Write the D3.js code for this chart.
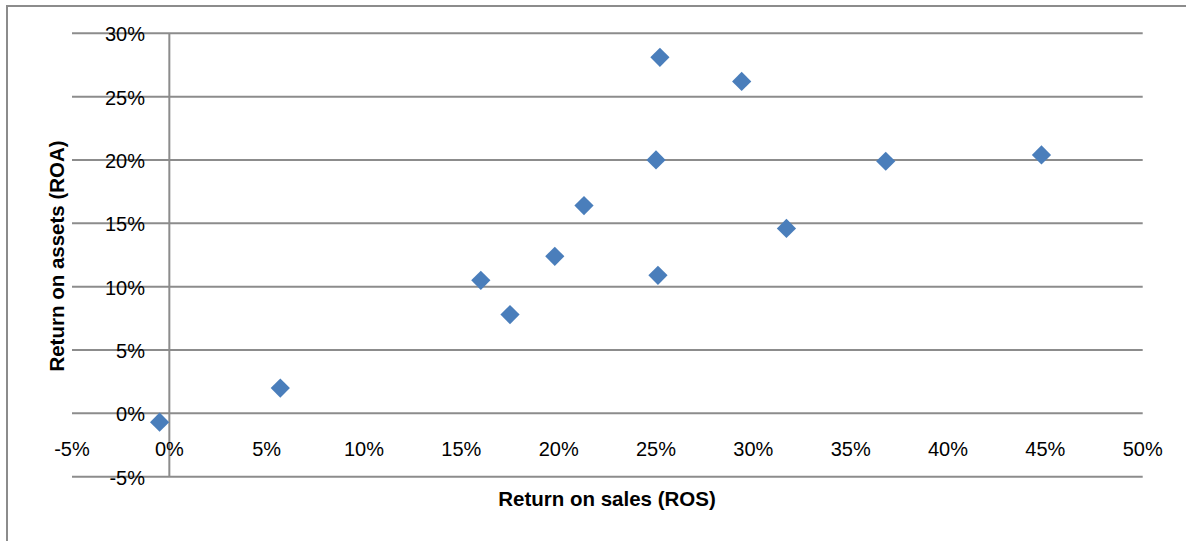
<!DOCTYPE html>
<html>
<head>
  <title>ROS vs ROA</title>
  <script src="https://d3js.org/d3.v7.min.js"></script>
  <style>
    body { margin: 0; background: #fff; }
    text { font-family: "Liberation Sans", Arial, sans-serif; fill: #000; }
  </style>
</head>
<body>
  <div id="chart"></div>

  <script>
    // return on sales (x) and return on assets (y), in percent
    const ros = [-0.5, 5.7, 16.0, 17.5, 19.8, 21.3, 25.2, 25.0, 25.1, 29.4, 31.7, 36.8, 44.8];
    const roa = [-0.7, 2.0, 10.5, 7.8, 12.4, 16.4, 28.1, 20.0, 10.9, 26.2, 14.6, 19.9, 20.4];
    const xTicks = [-5, 0, 5, 10, 15, 20, 25, 30, 35, 40, 45, 50];
    const yTicks = [-5, 0, 5, 10, 15, 20, 25, 30];

    const data = ros.map((d, i) => ({ x: d, y: roa[i] }));

    const width = 1186;
    const height = 541;
    const margin = { top: 33.3, right: 43.3, bottom: 64.3, left: 72 };

    const svg = d3.select("#chart")
      .append("svg")
      .attr("width", width)
      .attr("height", height);

    // outer chart frame (runs off the right and bottom edges)
    svg.append("rect")
      .attr("x", 7).attr("y", 6)
      .attr("width", 1300).attr("height", 700)
      .attr("fill", "none")
      .attr("stroke", "#8c8c8c")
      .attr("stroke-width", 2);

    const xScale = d3.scaleLinear()
      .domain([-5, 50])
      .range([margin.left, width - margin.right]);

    const yScale = d3.scaleLinear()
      .domain([-5, 30])
      .range([height - margin.bottom, margin.top]);

    const gridColor = "#8c8c8c";

    // horizontal gridlines
    svg.append("g")
      .selectAll("line")
      .data(yTicks)
      .join("line")
      .attr("x1", xScale(-5))
      .attr("x2", xScale(50))
      .attr("y1", d => yScale(d))
      .attr("y2", d => yScale(d))
      .attr("stroke", gridColor)
      .attr("stroke-width", 2);

    // vertical axis at x = 0
    svg.append("line")
      .attr("x1", xScale(0)).attr("x2", xScale(0))
      .attr("y1", yScale(30)).attr("y2", yScale(-5))
      .attr("stroke", gridColor)
      .attr("stroke-width", 2);

    // y tick labels
    svg.append("g")
      .selectAll("text")
      .data(yTicks)
      .join("text")
      .attr("x", 145)
      .attr("y", d => yScale(d) + 8)
      .attr("text-anchor", "end")
      .attr("font-size", 20)
      .text(d => d + "%");

    // x tick labels
    svg.append("g")
      .selectAll("text")
      .data(xTicks)
      .join("text")
      .attr("x", d => xScale(d))
      .attr("y", 455.5)
      .attr("text-anchor", "middle")
      .attr("font-size", 20)
      .text(d => d + "%");

    // axis titles
    svg.append("text")
      .attr("x", 607)
      .attr("y", 506)
      .attr("text-anchor", "middle")
      .attr("font-size", 20.5)
      .attr("font-weight", "bold")
      .text("Return on sales (ROS)");

    svg.append("text")
      .attr("transform", "translate(64,256) rotate(-90)")
      .attr("text-anchor", "middle")
      .attr("font-size", 20.5)
      .attr("font-weight", "bold")
      .text("Return on assets (ROA)");

    // diamond markers
    const diamond = d3.symbol().type(d3.symbolSquare).size(185);
    svg.append("g")
      .selectAll("path")
      .data(data)
      .join("path")
      .attr("d", diamond)
      .attr("transform", d => `translate(${xScale(d.x)},${yScale(d.y)}) rotate(45)`)
      .attr("fill", "#4a7ebb");
  </script>
</body>
</html>
